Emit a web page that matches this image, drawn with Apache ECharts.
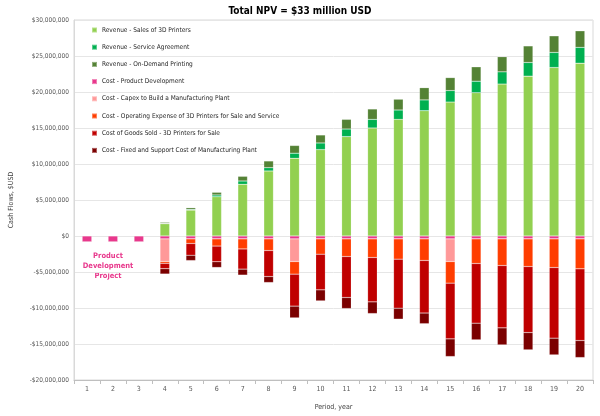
<!DOCTYPE html>
<html>
<head>
<meta charset="utf-8">
<script src="https://cdn.jsdelivr.net/npm/echarts@6/dist/echarts.min.js"></script>
<style>html,body{margin:0;padding:0;background:#fff}#c{width:600px;height:416px}</style>
</head>
<body>
<div id="c"></div>
<script>
// Data in millions of USD
const years = ['1','2','3','4','5','6','7','8','9','10','11','12','13','14','15','16','17','18','19','20'];
const salesPrinters = [0,0,0,1.7,3.6,5.45,7.18,9.03,10.8,12.0,13.8,15.0,16.2,17.4,18.6,19.9,21.1,22.2,23.4,24.0];
const serviceAgreement = [0,0,0,0.05,0.1,0.25,0.46,0.46,0.7,0.92,1.06,1.2,1.3,1.5,1.6,1.6,1.7,1.9,2.1,2.2];
const onDemandPrinting = [0,0,0,0.15,0.23,0.37,0.65,0.93,1.07,1.11,1.34,1.44,1.5,1.7,1.8,2.0,2.1,2.3,2.3,2.3];
const productDevelopment = [-0.85,-0.85,-0.85,-0.4,-0.4,-0.4,-0.4,-0.4,-0.4,-0.4,-0.4,-0.4,-0.4,-0.4,-0.4,-0.4,-0.4,-0.4,-0.4,-0.4];
const capexPlant = [0,0,0,-3.15,0,0,0,0,-3.15,0,0,0,0,0,-3.15,0,0,0,0,0];
const operatingExpense = [0,0,0,-0.25,-0.64,-1.0,-1.4,-1.62,-1.75,-2.13,-2.45,-2.59,-2.82,-3.0,-3.0,-3.42,-3.7,-3.84,-3.98,-4.16];
const costOfGoodsSold = [0,0,0,-0.74,-1.63,-2.18,-2.8,-3.61,-4.44,-4.95,-5.69,-6.16,-6.81,-7.3,-7.74,-8.29,-8.66,-9.17,-9.81,-9.96];
const fixedSupportCost = [0,0,0,-0.74,-0.74,-0.79,-0.83,-0.83,-1.63,-1.53,-1.53,-1.62,-1.52,-1.48,-2.45,-2.31,-2.36,-2.4,-2.32,-2.36];
const yTicks = [-20000000,-15000000,-10000000,-5000000,0,5000000,10000000,15000000,20000000,25000000,30000000];

const seriesDefs = [
  ['Revenue - Sales of 3D Printers', salesPrinters, '#92D050'],
  ['Revenue - Service Agreement', serviceAgreement, '#00B050'],
  ['Revenue - On-Demand Printing', onDemandPrinting, '#548235'],
  ['Cost - Product Development', productDevelopment, '#E8388C'],
  ['Cost - Capex to Build a Manufacturing Plant', capexPlant, '#FF9999'],
  ['Cost - Operating Expense of 3D Printers for Sale and Service', operatingExpense, '#FF3D00'],
  ['Cost of Goods Sold - 3D Printers for Sale', costOfGoodsSold, '#C00000'],
  ['Cost - Fixed and Support Cost of Manufacturing Plant', fixedSupportCost, '#7B0000']
];

const FONT = "'Liberation Sans Narrow','DejaVu Sans Condensed','Liberation Sans',sans-serif";

function money(v){
  if (v === 0) return '$0';
  const s = Math.abs(v).toLocaleString('en-US');
  return (v < 0 ? '-$' : '$') + s;
}

const chart = echarts.init(document.getElementById('c'), null, {renderer:'canvas'});
chart.setOption({
  animation: false,
  backgroundColor: '#fff',
  textStyle: {fontFamily: FONT},
  title: {
    text: 'Total NPV = $33 million USD',
    left: 'center', top: 1,
    textStyle: {fontSize: 10, fontWeight: 'bold', color: '#000', fontFamily: FONT}
  },
  grid: {left: 67, right: 7, top: 20, bottom: 36, show: true, borderColor: '#D9D9D9', borderWidth: 1},
  legend: {
    orient: 'vertical', left: 91, top: 26, padding: 0,
    itemWidth: 5, itemHeight: 5, itemGap: 9.2, icon: 'rect',
    textStyle: {fontSize: 6.5, lineHeight: 8, color: '#262626', fontFamily: FONT},
    data: seriesDefs.map(d => d[0])
  },
  xAxis: {
    type: 'category', data: years,
    name: 'Period, year', nameLocation: 'middle', nameGap: 24,
    nameTextStyle: {fontSize: 7, color: '#404040'},
    axisLine: {onZero: false, lineStyle: {color: '#BFBFBF'}},
    axisTick: {show: true, alignWithLabel: false, length: 4, lineStyle: {color: '#BFBFBF'}},
    axisLabel: {fontSize: 7, color: '#595959', margin: 6}
  },
  yAxis: {
    type: 'value', min: yTicks[0], max: yTicks[yTicks.length-1], interval: yTicks[1]-yTicks[0],
    name: 'Cash Flows, $USD', nameLocation: 'middle', nameGap: 59, nameRotate: 90,
    nameTextStyle: {fontSize: 7, color: '#404040'},
    axisLine: {show: true, lineStyle: {color: '#D9D9D9'}},
    axisTick: {show: false},
    splitLine: {lineStyle: {color: '#E6E6E6'}},
    axisLabel: {fontSize: 6.5, color: '#595959', margin: 5, formatter: v => money(v)}
  },
  series: seriesDefs.map(d => ({
    name: d[0], type: 'bar', stack: 'cf', barWidth: '37%',
    data: d[1].map(v => Math.round(v * 1000000)),
    itemStyle: {color: d[2], borderColor: 'rgba(255,255,255,0.35)', borderWidth: 0.5}
  })),
  graphic: [{
    type: 'text', x: 108, y: 251,
    style: {
      text: 'Product\nDevelopment\nProject',
      fill: '#E8388C', fontSize: 7.5, fontWeight: 'bold', lineHeight: 10,
      align: 'center', verticalAlign: 'top', fontFamily: FONT
    }
  }]
});
</script>
</body>
</html>
